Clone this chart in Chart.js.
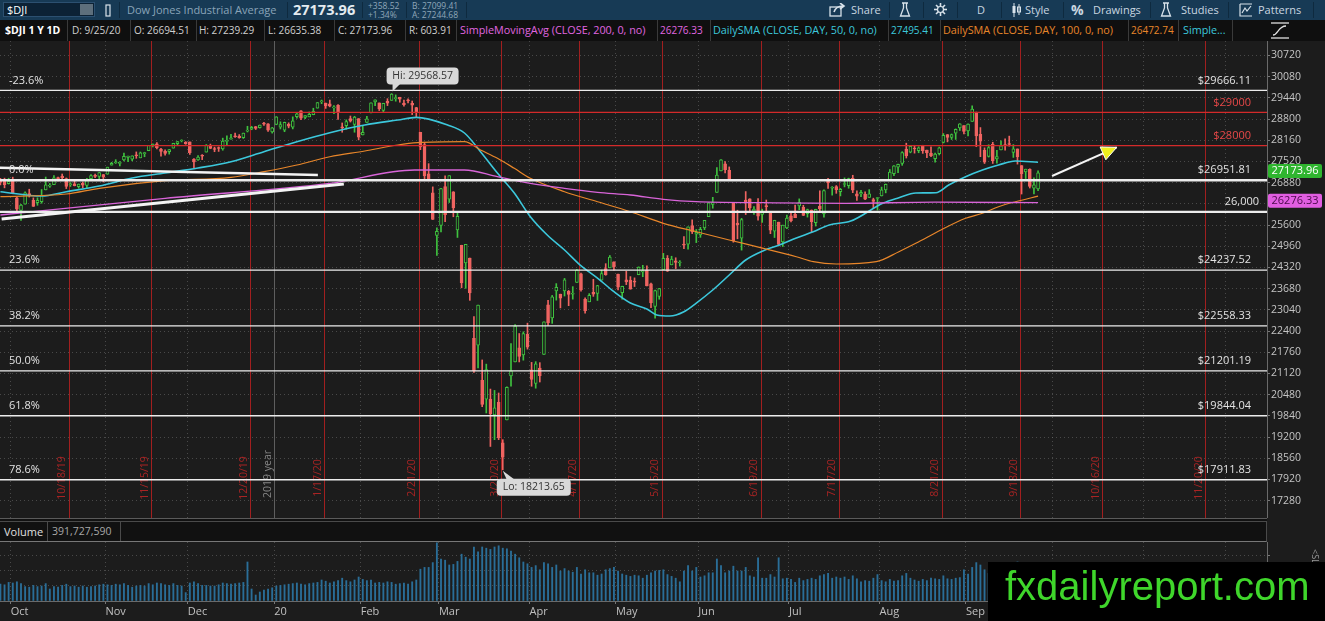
<!DOCTYPE html>
<html>
<head>
  <title>$DJI 1 Y 1D</title>
  <script src="https://cdn.jsdelivr.net/npm/chart.js"></script>
  <style>
    body {
      margin: 0;
      width: 1325px;
      height: 621px;
      overflow: hidden;
      position: relative;
      background-color: #1c1c1c;
      font-family: "Open Sans", sans-serif;
    }
    .abs { position: absolute; white-space: nowrap; }

    /* top toolbar */
    #toolbar { position: absolute; left: 0; top: 0; width: 1325px; height: 20px; background-color: #173a55; color: #c9d6e0; font-size: 11px; }
    #toolbar .sep { position: absolute; top: 2px; width: 1px; height: 16px; background-color: #0e2a3f; }
    .symbox { left: 3px; top: 2px; width: 92px; height: 15px; background-color: #0c2235; border: 1px solid #2c5070; box-sizing: border-box; color: #fff; font-size: 11px; line-height: 13px; padding-left: 3px; }
    .symbox .dd { position: absolute; right: 1px; top: 1px; width: 13px; height: 11px; background-color: #5d6f7c; }
    .small { font-size: 8.5px; color: #8fa7b9; line-height: 9px; }

    /* info bar */
    #infobar { position: absolute; left: 0; top: 20px; width: 1325px; height: 21px; background-color: #0f0f0f; color: #cfcfcf; font-size: 10px; }
    #infobar span { top: 3px; }
    #infobar .sep { position: absolute; top: 0; width: 1px; height: 21px; background-color: #3a3a3a; }

    /* volume header */
    #volhead { position: absolute; left: 0; top: 518px; width: 1267px; height: 24px; background-color: #111; border-top: 1px solid #5a5a5a; box-sizing: border-box; }
    #volhead .inner { position: absolute; left: 0; top: 2px; width: 1267px; height: 21px; border-top: 1px solid #4a4a4a; border-bottom: 1px solid #777; border-right: 1px solid #4a4a4a; box-sizing: border-box; }

    #mark { position: absolute; left: 988px; top: 562px; width: 337px; height: 59px; background-color: #000; }
    #mark span { position: absolute; left: 17px; top: 4px; font-family: "Liberation Sans", Arial, sans-serif; font-size: 40px; line-height: 40px; color: #3fd62b; }
  </style>
</head>
<body>
  <div id="toolbar">
    <div class="abs symbox">$DJI<div class="dd"></div></div>
    <svg class="abs" style="left:104px;top:4px" width="9" height="13"><rect x="2" y="1" width="4" height="11" fill="none" stroke="#d8e2ea" stroke-width="1.2"/></svg>
    <div class="sep" style="left:119px"></div>
    <span class="abs" style="left:127px;top:2px;color:#8aa4b8">Dow Jones Industrial Average</span>
    <div class="sep" style="left:287px"></div>
    <span class="abs" style="left:293px;top:0px;font-size:14.5px;font-weight:bold;color:#e4ebf0">27173.96</span>
    <div class="sep" style="left:362px"></div>
    <span class="abs small" style="left:368px;top:1px">+358.52</span>
    <span class="abs small" style="left:368px;top:10px">+1.34%</span>
    <div class="sep" style="left:406px"></div>
    <span class="abs small" style="left:412px;top:1px">B: 27099.41</span>
    <span class="abs small" style="left:412px;top:10px">A: 27244.68</span>
    <div class="sep" style="left:466px"></div>

    <svg class="abs" style="left:829px;top:3px" width="18" height="14"><rect x="1" y="4" width="11" height="9" fill="none" stroke="#d8e2ea" stroke-width="1.3"/><path d="M5 9 Q7 3 14 3 M11 0 L15 3 L11 6" fill="none" stroke="#d8e2ea" stroke-width="1.6"/></svg>
    <span class="abs" style="left:851px;top:2px">Share</span>
    <div class="sep" style="left:889px"></div>
    <svg class="abs" style="left:899px;top:2px" width="12" height="16"><path d="M3 1 H9 M4.5 1 V6 L1.5 14 H10.5 L7.5 6 V1" fill="none" stroke="#d8e2ea" stroke-width="1.3"/></svg>
    <div class="sep" style="left:923px"></div>
    <svg class="abs" style="left:934px;top:3px" width="13" height="13"><g stroke="#d8e2ea" stroke-width="1.6"><line x1="6.5" y1="0" x2="6.5" y2="13"/><line x1="0" y1="6.5" x2="13" y2="6.5"/><line x1="2" y1="2" x2="11" y2="11"/><line x1="11" y1="2" x2="2" y2="11"/></g><circle cx="6.5" cy="6.5" r="3" fill="#173a55" stroke="#d8e2ea" stroke-width="1.2"/></svg>
    <div class="sep" style="left:957px"></div>
    <span class="abs" style="left:977px;top:2px">D</span>
    <div class="sep" style="left:1001px"></div>
    <svg class="abs" style="left:1011px;top:3px" width="11" height="14"><g stroke="#d8e2ea" stroke-width="1"><line x1="3" y1="0" x2="3" y2="14"/><line x1="8" y1="1" x2="8" y2="12"/></g><rect x="1.5" y="3" width="3" height="7" fill="#d8e2ea"/><rect x="6.5" y="4" width="3" height="5" fill="none" stroke="#d8e2ea"/></svg>
    <span class="abs" style="left:1025px;top:2px">Style</span>
    <div class="sep" style="left:1063px"></div>
    <span class="abs" style="left:1071px;top:0px;font-size:14px;font-weight:bold">%</span>
    <span class="abs" style="left:1093px;top:2px">Drawings</span>
    <div class="sep" style="left:1150px"></div>
    <svg class="abs" style="left:1160px;top:2px" width="12" height="16"><path d="M3 1 H9 M4.5 1 V6 L1.5 14 H10.5 L7.5 6 V1" fill="none" stroke="#d8e2ea" stroke-width="1.3"/></svg>
    <span class="abs" style="left:1181px;top:2px">Studies</span>
    <div class="sep" style="left:1228px"></div>
    <svg class="abs" style="left:1239px;top:3px" width="14" height="14"><path d="M1 1 H13 M1 1 V13 H13 M3 10 L6 5 L8 8 L12 3" fill="none" stroke="#d8e2ea" stroke-width="1.2"/></svg>
    <span class="abs" style="left:1258px;top:2px">Patterns</span>
    <div class="sep" style="left:1313px"></div>
  </div>

  <div id="infobar">
    <span class="abs" style="left:5px;color:#fff;font-weight:bold;font-size:10.5px">$DJI 1 Y 1D</span>
    <div class="sep" style="left:67px"></div>
    <span class="abs" style="left:72px">D: 9/25/20</span>
    <div class="sep" style="left:130px"></div>
    <span class="abs" style="left:134px">O: 26694.51</span>
    <div class="sep" style="left:196px"></div>
    <span class="abs" style="left:199px">H: 27239.29</span>
    <div class="sep" style="left:264px"></div>
    <span class="abs" style="left:268px">L: 26635.38</span>
    <div class="sep" style="left:334px"></div>
    <span class="abs" style="left:338px">C: 27173.96</span>
    <div class="sep" style="left:405px"></div>
    <span class="abs" style="left:409px">R: 603.91</span>
    <div class="sep" style="left:456px"></div>
    <span class="abs" style="left:460px;color:#e066e0;font-size:10.8px;top:2px">SimpleMovingAvg (CLOSE, 200, 0, no)</span>
    <div class="sep" style="left:657px"></div>
    <span class="abs" style="left:660px;color:#e066e0">26276.33</span>
    <div class="sep" style="left:710px"></div>
    <span class="abs" style="left:713px;color:#3cc8dc;font-size:10.8px;top:2px">DailySMA (CLOSE, DAY, 50, 0, no)</span>
    <div class="sep" style="left:888px"></div>
    <span class="abs" style="left:891px;color:#3cc8dc">27495.41</span>
    <div class="sep" style="left:940px"></div>
    <span class="abs" style="left:943px;color:#e8862a;font-size:10.8px;top:2px">DailySMA (CLOSE, DAY, 100, 0, no)</span>
    <div class="sep" style="left:1128px"></div>
    <span class="abs" style="left:1131px;color:#e8862a">26472.74</span>
    <div class="sep" style="left:1178px"></div>
    <span class="abs" style="left:1183px;color:#3cc8dc;font-size:10.8px;top:2px">Simple...</span>
    <div class="sep" style="left:1232px"></div>
    <svg class="abs" style="left:1270px;top:1px" width="20" height="19"><g stroke="#e0e0e0" stroke-width="1.3" fill="none"><line x1="1" y1="2" x2="19" y2="2"/><line x1="1" y1="17" x2="19" y2="17"/><path d="M3 14 C8 14 8 5 16 5"/></g></svg>
  </div>

  <canvas id="priceChart" class="abs" style="left:0;top:41px" width="1325" height="477"></canvas>

  <div id="volhead">
    <div class="inner">
      <span class="abs" style="left:0;top:0;width:48px;height:19px;border-right:1px solid #4a4a4a;color:#e0e0e0;font-size:11px;line-height:19px;padding-left:4px;box-sizing:border-box">Volume</span>
      <span class="abs" style="left:52px;top:0;color:#a8a8a8;font-size:10.5px;line-height:19px">391,727,590</span>
      <div class="abs" style="left:120px;top:0;width:1px;height:19px;background-color:#4a4a4a"></div>
    </div>
  </div>

  <canvas id="volumeChart" class="abs" style="left:0;top:542px" width="1325" height="79"></canvas>

  <span class="abs" style="top:549px;font-size:9px;color:#9a9a9a;transform:rotate(90deg);transform-origin:left top;left:1322px">&lt;SL</span>

  <div id="mark"><span>fxdailyreport.com</span></div>

  <script>
    // ---- daily bars, 9/25/2019 .. 9/25/2020 (index 0 .. 253) ----
    const opens = [
      26796, 26983, 26928, 26852,
      26962, 26425, 26039, 26232, 26549, 26346, 26276, 26309, 26662, 26777, 26817, 27004, 27081, 27003, 26818, 26844, 26761, 26858, 26793, 27004, 27083, 27067, 27127,
      27133, 27409, 27480, 27462, 27566, 27644, 27591, 27704, 27628, 27757, 27843, 27996, 28052, 27890, 27825, 27812, 27921, 28060, 28137, 28105,
      28109, 27591, 27570, 27703, 27803, 27986, 27893, 27914, 27897, 28124, 28191, 28268, 28285, 28237, 28435, 28492, 28573, 28539, 28676, 28654, 28414,
      28639, 28553, 28466, 28640, 28556, 28874, 29048, 28847, 28868, 28929, 29129, 29316, 29278, 29263, 29136, 29218, 28542, 28599, 28817, 28641, 28813,
      28319, 28696, 28985, 29320, 29286, 29060, 29336, 29366, 29417, 29457, 29279, 29353, 29271, 29144, 28402, 28028, 27150, 26570, 25285,
      25591, 26762, 26383, 26605, 25457, 24992, 24454, 24605, 22184, 21973, 20917, 20344, 20346, 19869, 20253, 19028, 19722, 21050, 21468, 21898, 21678, 22302,
      21227, 20819, 21285, 21693, 23194, 22794, 23612, 23514, 23610, 23603, 23512, 23866, 24125, 23362, 23284, 23573, 23539, 23938, 24284, 24310, 24490,
      24120, 23562, 23950, 23943, 23887, 24100, 24189, 24245, 23829, 23147, 23445, 24255, 24595, 24400, 24521, 24456, 25022, 25025, 25586, 25323,
      25300, 25514, 25854, 26225, 26582, 27232, 27449, 27251, 26282, 25659, 25208, 26358, 26390, 26018, 26245, 25921, 26158, 26012, 25419, 25689, 25093, 25513,
      25880, 25923, 26179, 26136, 25946, 26049, 25676, 26173, 25939, 26942, 26712, 26761, 26608, 26824, 26786, 27012, 26542, 26538, 26532, 26434, 26368, 26403,
      26483, 26662, 26954, 27150, 27344, 27460, 27893, 27801, 27926, 27845, 27983, 27862, 27773, 27601, 27756, 28095, 28332, 28249, 28371, 28534, 28601,
      28439, 28728, 29010, 28341, 27857, 27671, 28039, 27598, 27868, 28032, 28059, 27792, 27898, 27397, 27201, 27280, 26715, 26694.51
    ];
    const highs = [
      27012, 27013, 27016, 27014,
      27046, 26443, 26223, 26607, 26682, 26421, 26423, 26672, 27049, 26854, 27094, 27049, 27141, 27022, 26882, 26959, 26840, 26901, 27009, 27123, 27141, 27189, 27129,
      27348, 27493, 27574, 27517, 27775, 27683, 27691, 27808, 27805, 27798, 28004, 28052, 28091, 27920, 27869, 27883, 28070, 28124, 28175, 28119,
      28109, 27608, 27699, 27727, 28030, 28044, 27952, 27960, 28224, 28290, 28337, 28376, 28331, 28377, 28582, 28582, 28576, 28621, 28701, 28664, 28548,
      28872, 28717, 28708, 28686, 28867, 28978, 29056, 28907, 29013, 29127, 29298, 29374, 29285, 29373, 29206, 29240, 28682, 28777, 28892, 28883, 28813,
      28592, 28883, 29291, 29380, 29286, 29277, 29415, 29568.57, 29529, 29458, 29370, 29409, 29345, 29153, 28402, 28100, 27454, 26753, 25514,
      26706, 27084, 27091, 26609, 25994, 24992, 25020, 24605, 22837, 23186, 21529, 21403, 20650, 20609, 20531, 19122, 20720, 22020, 22595, 22327, 22378, 22639,
      21455, 21478, 21447, 22680, 23328, 23476, 23833, 23515, 23990, 23627, 23742, 24265, 24152, 23401, 23531, 23964, 23781, 24241, 24435, 24682, 24490,
      24120, 23756, 24207, 24044, 24006, 24338, 24386, 24369, 23848, 23635, 23691, 24746, 24680, 24659, 24613, 24526, 25250, 25550, 25758, 25467,
      25532, 25742, 26283, 26437, 27338, 27580, 27520, 27355, 26282, 26049, 25802, 26611, 26395, 26159, 26400, 26081, 26357, 26012, 25746, 25689, 25598, 25905,
      26017, 26205, 26391, 26197, 26082, 26058, 26079, 26635, 26661, 27009, 26762, 26792, 26707, 27024, 27017, 27103, 26633, 26651, 26604, 26669, 26412, 26432,
      26746, 26840, 27278, 27394, 27442, 27815, 28072, 28002, 28008, 27965, 28009, 27865, 27958, 27773, 27955, 28363, 28333, 28350, 28502, 28661, 28601,
      28659, 29199, 29010, 28543, 27931, 28024, 28099, 27857, 28141, 28200, 28285, 28029, 27898, 27397, 27289, 27299, 27023, 27239.29
    ];
    const lows = [
      26686, 26811, 26723, 26839,
      26545, 25974, 25743, 26232, 26446, 26162, 26197, 26258, 26662, 26739, 26817, 26935, 26958, 26701, 26765, 26782, 26713, 26724, 26731, 26995, 27030, 26961, 26900,
      27133, 27409, 27459, 27385, 27536, 27511, 27539, 27614, 27629, 27662, 27843, 27958, 27897, 27676, 27711, 27741, 27921, 28016, 28110, 28039,
      27732, 27325, 27553, 27575, 27803, 27905, 27814, 27823, 27859, 28028, 28191, 28245, 28221, 28215, 28410, 28477, 28484, 28527, 28608, 28428, 28376,
      28627, 28500, 28418, 28534, 28502, 28829, 28779, 28809, 28868, 28929, 29129, 29263, 29122, 29168, 28965, 28788, 28402, 28492, 28709, 28402, 28170,
      28319, 28696, 28985, 29204, 29056, 29022, 29206, 29366, 29339, 29308, 29191, 29284, 28934, 28864, 27876, 26991, 26937, 25767, 24681,
      25391, 25706, 26281, 25851, 25226, 23707, 23690, 23328, 21154, 21285, 20117, 19928, 18917, 19122, 19123, 18213.65, 19722, 20738, 21468, 21469, 21522, 21855,
      20735, 20676, 20863, 21693, 22574, 22633, 23334, 23099, 23458, 23167, 23363, 23866, 23605, 22941, 23284, 23448, 23325, 23938, 24084, 24310, 24237,
      23645, 23361, 23803, 23664, 23745, 24100, 24041, 23764, 23110, 22790, 23361, 24255, 24201, 24400, 24285, 24362, 24891, 24876, 25343, 25071,
      25229, 25462, 25854, 26108, 26582, 27232, 27175, 26984, 25082, 25185, 24843, 25917, 26034, 25920, 25745, 25681, 26033, 25341, 25224, 24972, 24953, 25493,
      25693, 25825, 26063, 25886, 25840, 25390, 25570, 26029, 25839, 26704, 26503, 26558, 26480, 26752, 26712, 26577, 26345, 26459, 26366, 26431, 26108, 26053,
      26478, 26572, 26954, 27093, 27181, 27403, 27623, 27780, 27771, 27783, 27764, 27633, 27668, 27499, 27715, 28078, 28111, 28184, 28185, 28455, 28350,
      28293, 28728, 27965, 27665, 27458, 27652, 27460, 27465, 27868, 27861, 27982, 27642, 27440, 26537, 27004, 26718, 26537, 26635.38
    ];
    const closes = [
      26971, 26891, 26820, 26917,
      26573, 26079, 26201, 26574, 26478, 26164, 26346, 26497, 26817, 26787, 27025, 27002, 27026, 26770, 26828, 26788, 26834, 26806, 26958, 27091, 27071, 27187, 27046,
      27347, 27462, 27493, 27493, 27675, 27681, 27691, 27691, 27784, 27782, 28005, 28036, 27934, 27821, 27766, 27876, 28066, 28122, 28164, 28051,
      27783, 27503, 27650, 27678, 28015, 27910, 27882, 27911, 28132, 28135, 28236, 28267, 28239, 28377, 28455, 28552, 28515, 28621, 28645, 28462, 28538,
      28869, 28635, 28703, 28584, 28745, 28957, 28824, 28907, 28940, 29030, 29298, 29348, 29196, 29186, 29160, 28990, 28536, 28723, 28734, 28859, 28256,
      28400, 28808, 29291, 29380, 29103, 29277, 29276, 29551, 29423, 29398, 29232, 29348, 29220, 28992, 27961, 27081, 26958, 25767, 25409,
      26703, 25917, 27091, 26121, 25865, 23851, 25018, 23553, 21201, 23186, 20189, 21237, 19899, 20087, 19174, 18592, 20705, 21201, 22552, 21637, 22327, 21917,
      20944, 21413, 21053, 22680, 22654, 23434, 23719, 23391, 23950, 23504, 23538, 24242, 23650, 23019, 23476, 23515, 23775, 24134, 24102, 24634, 24346,
      23724, 23750, 23883, 23665, 23876, 24331, 24222, 23765, 23248, 23625, 23685, 24597, 24207, 24576, 24474, 24465, 24995, 25548, 25401, 25383,
      25475, 25743, 26270, 26282, 27111, 27572, 27272, 26990, 25128, 25606, 25763, 26290, 26120, 26080, 25871, 26025, 26156, 25446, 25746, 25016, 25596, 25813,
      25735, 25827, 26287, 25890, 26067, 25706, 26075, 26086, 26643, 26870, 26735, 26672, 26681, 26840, 27006, 26652, 26470, 26585, 26379, 26540, 26314, 26428,
      26664, 26828, 27202, 27387, 27433, 27791, 27687, 27977, 27897, 27931, 27845, 27778, 27693, 27740, 27930, 28308, 28248, 28332, 28492, 28654, 28430,
      28646, 29101, 28293, 28133, 27501, 27940, 27535, 27666, 27993, 27996, 28032, 27902, 27657, 27148, 27288, 26763, 26815, 27173.96
    ];
    // volume, millions of shares
    const volumes = [
      290, 280, 270, 310,
      300, 320, 290, 240, 230, 260, 240, 250, 290, 200, 240, 230, 260, 280, 240, 250, 230, 250, 230, 240, 250, 270, 280,
      270, 260, 280, 270, 290, 260, 230, 250, 260, 250, 290, 270, 300, 290, 270, 260, 290, 260, 250, 140,
      300, 320, 290, 260, 260, 250, 250, 270, 300, 290, 280, 290, 300, 310, 650, 200, 100, 150, 180, 200, 220,
      250, 260, 270, 280, 290, 300, 280, 270, 290, 300, 310, 350, 330, 300, 320, 340, 380, 340, 320, 350, 400,
      360, 340, 350, 300, 310, 300, 320, 310, 280, 290, 300, 280, 320, 350, 530, 560, 560, 640, 970,
      700, 680, 600, 610, 660, 780, 730, 700, 900, 820, 900, 880, 860, 900, 920, 880, 870, 830, 780, 720, 650, 620,
      560, 590, 520, 640, 620, 560, 600, 500, 540, 500, 480, 560, 450, 520, 470, 470, 430, 450, 520, 540, 560,
      500, 450, 430, 410, 430, 420, 380, 430, 470, 500, 510, 520, 440, 410, 380, 320, 500, 590, 500, 560,
      400, 420, 470, 470, 700, 590, 470, 500, 580, 500, 500, 560, 420, 400, 720, 380, 380, 440, 400, 720, 370, 380,
      360, 310, 380, 340, 360, 380, 360, 420, 440, 460, 380, 400, 380, 400, 360, 420, 370, 320, 340, 330, 380, 440,
      340, 320, 360, 330, 340, 420, 460, 380, 350, 330, 360, 340, 380, 370, 360, 420, 370, 360, 380, 390, 520,
      450, 560, 640, 600, 520, 460, 440, 400, 400, 410, 400, 420, 650, 500, 380, 420, 400, 392
    ];

    // moving averages (bar index, value)
    const sma50Idx = [1, 11, 17, 25, 33, 41, 49, 57, 65, 73, 81, 89.5, 97.5, 102, 109.6, 113.7, 117.6, 121.7, 125.8, 129.7, 133.8, 138, 141.8, 146, 150, 154, 158, 160.4, 163.6, 167, 170, 174, 178, 182, 186.3, 190.2, 194.3, 198.4, 202.3, 207.5, 215.4, 219.2, 223.3, 228.2, 231.3, 235.4, 239.5, 243.4, 247.5, 253];
    const sma50Val = [26607, 26477, 26607, 26779, 27020, 27171, 27322, 27512, 27814, 28116, 28388, 28620, 28771, 28852, 28620, 28379, 27814, 27171, 26568, 25852, 25300, 24847, 24394, 24002, 23588, 23247, 23066, 22885, 22855, 22985, 23247, 23640, 24092, 24545, 24826, 24998, 25209, 25399, 25602, 25720, 26266, 26426, 26568, 26577, 26809, 27060, 27262, 27413, 27533, 27495.41];
    const sma100Idx = [1, 17, 25, 41, 57, 65, 73, 81, 89.5, 97.5, 102.4, 113.7, 117.6, 121.7, 125.8, 129.7, 138, 146, 154, 162, 170, 178, 186.3, 194.3, 198.4, 204, 213.7, 219.2, 223.3, 229.4, 235.4, 239.5, 243.4, 247.5, 253];
    const sma100Val = [26456, 26537, 26710, 26939, 27042, 27211, 27413, 27663, 27835, 28016, 28086, 28116, 27866, 27615, 27313, 27011, 26607, 26305, 26003, 25653, 25399, 25149, 24898, 24645, 24494, 24425, 24494, 24796, 25049, 25451, 25804, 25955, 26154, 26305, 26472.74];
    const sma200Idx = [1, 41, 81, 101.6, 113.7, 121.7, 129.7, 138, 146, 154, 162, 170, 186.3, 206.4, 228, 253];
    const sma200Val = [25904, 26408, 26860, 27262, 27262, 27060, 26860, 26710, 26589, 26507, 26377, 26305, 26276, 26257, 26290, 26276.33];

    // fibonacci retracement and drawn levels
    const fibLevels = [29666.11, 26951.81, 24237.52, 22558.33, 21201.19, 19844.04, 17911.83];
    const fibPct = ['-23.6%', '0.0%', '23.6%', '38.2%', '50.0%', '61.8%', '78.6%'];
    const redLevels = [29000, 28000];
    const supportLevel = 26000;

    // trend lines / arrow drawn on the chart (bar index, value)
    const trend1Idx = [0.9, 78.1], trend1Val = [27331, 27111];
    const trend2Idx = [1.3, 84.4], trend2Val = [25783, 26839];
    const arrowIdx = [256.4, 272.1], arrowVal = [27081, 27947];

    // axis ticks
    const priceTicks = [17280, 17920, 18560, 19200, 19840, 20480, 21120, 21760, 22400, 23040, 23680, 24320, 24960, 25600, 26240, 26880, 27520, 28160, 28800, 29440, 30080, 30720];
    const monthTicks = [3.5, 26.5, 46.5, 67.5, 88.5, 107.5, 129.5, 150.5, 170.5, 192.5, 214.5, 235.5, 256.5, 278.5, 298.5];
    const monthLabels = ['Oct', 'Nov', 'Dec', '20', 'Feb', 'Mar', 'Apr', 'May', 'Jun', 'Jul', 'Aug', 'Sep', 'Oct', 'Nov', 'Dec'];
    const yearTick = 67.5;
    const expiryIdx = [17, 37, 61, 79, 102, 122, 141, 161, 185, 204, 229, 248, 268, 293];
    const expiryLabels = ['10/18/19', '11/15/19', '12/20/19', '1/17/20', '2/21/20', '3/20/20', '4/17/20', '5/15/20', '6/19/20', '7/17/20', '8/21/20', '9/18/20', '10/16/20', '11/20/20'];
    const hiIdx = 96, loIdx = 123;

    const xMin = 0.9, xMax = 308.6;
    const priceMin = 16758, priceMax = 31156;

    const GREEN = '#3fc23f', RED = '#ef6461', BG = '#1c1c1c';

    Chart.defaults.font.family = '"Open Sans", sans-serif';
    Chart.defaults.animation = false;

    const last = closes.length - 1;
    const isUp = closes.map((c, i) => c >= opens[i]);
    const wickData = closes.map((c, i) => ({ x: i, y: [lows[i], highs[i]] }));
    const bodyData = closes.map((c, i) => ({ x: i, y: [opens[i], c] }));
    const pts = (xs, ys) => xs.map((x, i) => ({ x: x, y: ys[i] }));
    const flat = v => [{ x: xMin, y: v }, { x: xMax, y: v }];

    function lineSet(data, color, width, order, extra) {
      return Object.assign({
        type: 'line', data: data, borderColor: color, borderWidth: width,
        pointRadius: 0, fill: false, order: order
      }, extra || {});
    }

    const datasets = [
      { type: 'bar', data: wickData, backgroundColor: isUp.map(u => u ? GREEN : RED),
        barThickness: 1, grouped: false, order: 7 },
      { type: 'bar', data: bodyData, backgroundColor: isUp.map(u => u ? BG : RED),
        borderColor: isUp.map(u => u ? GREEN : RED), borderWidth: 1, borderSkipped: false,
        barThickness: 3, minBarLength: 1, grouped: false, order: 6 },
      lineSet(pts(sma200Idx, sma200Val), '#d864d8', 1.3, 5, { cubicInterpolationMode: 'monotone' }),
      lineSet(pts(sma100Idx, sma100Val), '#e8862a', 1.2, 5, { cubicInterpolationMode: 'monotone' }),
      lineSet(pts(sma50Idx, sma50Val), '#3cc8dc', 1.6, 5, { cubicInterpolationMode: 'monotone' })
    ];
    fibLevels.forEach((v, k) => datasets.push(lineSet(flat(v), '#ececec', k === 1 ? 2.5 : 1.3, 4)));
    redLevels.forEach(v => datasets.push(lineSet(flat(v), '#d42a2a', 1.3, 4)));
    datasets.push(lineSet(flat(supportLevel), '#ececec', 2.2, 4));
    datasets.push(lineSet(pts(trend1Idx, trend1Val), '#f4f4f4', 2.5, 3));
    datasets.push(lineSet(pts(trend2Idx, trend2Val), '#f4f4f4', 3, 3));
    datasets.push(lineSet(pts(arrowIdx, arrowVal), '#f4f4f4', 2, 2));

    function rrect(ctx, x, y, w, h, r) {
      ctx.beginPath();
      ctx.moveTo(x + r, y);
      ctx.arcTo(x + w, y, x + w, y + h, r);
      ctx.arcTo(x + w, y + h, x, y + h, r);
      ctx.arcTo(x, y + h, x, y, r);
      ctx.arcTo(x, y, x + w, y, r);
      ctx.closePath();
    }

    const priceDeco = {
      id: 'priceDeco',
      beforeDatasetsDraw(chart) {
        const { ctx, chartArea: a, scales: { x } } = chart;
        ctx.save();
        ctx.beginPath(); ctx.rect(a.left, a.top, a.width, a.height); ctx.clip();
        ctx.lineWidth = 1;
        const yx = Math.round(x.getPixelForValue(yearTick)) + 0.5;
        ctx.strokeStyle = '#5e5e5e';
        ctx.beginPath(); ctx.moveTo(yx, a.top); ctx.lineTo(yx, a.bottom); ctx.stroke();
        ctx.strokeStyle = '#a11f1f';
        expiryIdx.forEach(i => {
          const px = Math.round(x.getPixelForValue(i + 0.6)) + 0.5;
          ctx.beginPath(); ctx.moveTo(px, a.top); ctx.lineTo(px, a.bottom); ctx.stroke();
        });
        ctx.font = '10.5px "Open Sans"';
        ctx.textAlign = 'center';
        ctx.textBaseline = 'bottom';
        ctx.fillStyle = '#a82424';
        expiryIdx.forEach((i, k) => {
          const px = x.getPixelForValue(i + 0.6);
          ctx.save(); ctx.translate(px - 1, a.bottom - 40); ctx.rotate(-Math.PI / 2);
          ctx.fillText(expiryLabels[k], 0, 0); ctx.restore();
        });
        ctx.fillStyle = '#858585';
        ctx.save(); ctx.translate(yx - 1, a.bottom - 44); ctx.rotate(-Math.PI / 2);
        ctx.fillText('2019 year', 0, 0); ctx.restore();
        ctx.restore();
      },
      afterDatasetsDraw(chart) {
        const { ctx, scales: { x, y } } = chart;
        ctx.save();
        ctx.font = '11px "Open Sans"';
        ctx.textBaseline = 'middle';
        fibLevels.forEach((v, k) => {
          const py = y.getPixelForValue(v) - 10;
          ctx.fillStyle = '#e2e2e2';
          ctx.textAlign = 'left';
          ctx.fillText(fibPct[k], 9, py);
          ctx.textAlign = 'right';
          ctx.fillText('$' + v.toFixed(2), 1251, py);
        });
        ctx.fillStyle = '#e84848';
        redLevels.forEach(v => ctx.fillText('$' + v, 1251, y.getPixelForValue(v) - 10));
        ctx.fillStyle = '#e2e2e2';
        ctx.fillText('26,000', 1259, y.getPixelForValue(supportLevel) - 10);

        // Hi / Lo bubbles
        ctx.font = '10.5px "Open Sans"';
        const hx = x.getPixelForValue(hiIdx), hy = y.getPixelForValue(highs[hiIdx]);
        ctx.fillStyle = '#d9d9d9';
        rrect(ctx, hx - 5, hy - 26, 72, 17, 4); ctx.fill();
        ctx.beginPath(); ctx.moveTo(hx + 1, hy - 10); ctx.lineTo(hx + 9, hy - 10); ctx.lineTo(hx + 1, hy - 2); ctx.fill();
        ctx.fillStyle = '#333';
        ctx.textAlign = 'center';
        ctx.fillText('Hi: ' + highs[hiIdx].toFixed(2), hx + 31, hy - 17.5);
        const lx = x.getPixelForValue(loIdx), ly = y.getPixelForValue(lows[loIdx]);
        ctx.fillStyle = '#d9d9d9';
        rrect(ctx, lx - 6, ly + 9, 74, 17, 4); ctx.fill();
        ctx.beginPath(); ctx.moveTo(lx, ly + 1); ctx.lineTo(lx + 4, ly + 10); ctx.lineTo(lx + 12, ly + 10); ctx.fill();
        ctx.fillStyle = '#333';
        ctx.fillText('Lo: ' + lows[loIdx].toFixed(2), lx + 31, ly + 17.5);

        // arrow head
        const x0 = x.getPixelForValue(arrowIdx[0]), y0 = y.getPixelForValue(arrowVal[0]);
        const x1 = x.getPixelForValue(arrowIdx[1]), y1 = y.getPixelForValue(arrowVal[1]);
        const len = Math.hypot(x1 - x0, y1 - y0), dx = (x1 - x0) / len, dy = (y1 - y0) / len;
        const bx = x1 - dx * 15, by = y1 - dy * 15;
        ctx.beginPath();
        ctx.moveTo(x1, y1);
        ctx.lineTo(bx - dy * 7, by + dx * 7);
        ctx.lineTo(bx + dy * 7, by - dx * 7);
        ctx.closePath();
        ctx.fillStyle = '#f0f01e'; ctx.fill();
        ctx.strokeStyle = '#ffffff'; ctx.lineWidth = 1; ctx.stroke();
        ctx.restore();
      },
      afterDraw(chart) {
        const { ctx, scales: { y } } = chart;
        ctx.save();
        ctx.font = '11px "Open Sans"';
        ctx.textAlign = 'center';
        ctx.textBaseline = 'middle';
        const tag = (v, bg, fg, dy) => {
          const py = y.getPixelForValue(v) + dy;
          ctx.fillStyle = bg; rrect(ctx, 1268, py - 7, 54, 14, 2); ctx.fill();
          ctx.fillStyle = fg; ctx.fillText(v.toFixed(2), 1295, py);
        };
        tag(sma200Val[sma200Val.length - 1], '#e15ee1', '#4a0a4a', -2);
        tag(closes[last], '#2fb52f', '#ffffff', -2);
        ctx.restore();
      }
    };

    const noPad = s => { s.paddingTop = 0; s.paddingBottom = 0; s.paddingLeft = 0; s.paddingRight = 0; };
    const gridColor = 'rgba(128,128,128,0.45)';

    new Chart(document.getElementById('priceChart'), {
      type: 'bar',
      data: { datasets: datasets },
      options: {
        responsive: false,
        events: [],
        layout: { padding: 0 },
        plugins: { legend: { display: false }, tooltip: { enabled: false } },
        scales: {
          x: {
            type: 'linear', min: xMin, max: xMax, offset: false,
            afterBuildTicks: s => { s.ticks = monthTicks.map(v => ({ value: v })); },
            afterFit: s => { s.height = 0; noPad(s); },
            ticks: { display: false },
            grid: { color: gridColor, drawTicks: false, offset: false },
            border: { display: false, dash: [1, 3] }
          },
          y: {
            position: 'right', min: priceMin, max: priceMax,
            afterBuildTicks: s => { s.ticks = priceTicks.map(v => ({ value: v })); },
            afterFit: s => { s.width = 58; noPad(s); },
            ticks: { color: '#c4c4c4', font: { size: 10.5 }, padding: 1, callback: v => String(v) },
            grid: { color: gridColor, tickLength: 3, tickColor: '#777' },
            border: { display: true, color: '#6a6a6a', dash: [1, 3] }
          }
        }
      },
      plugins: [priceDeco]
    });

    new Chart(document.getElementById('volumeChart'), {
      type: 'bar',
      data: {
        datasets: [{
          data: volumes.map((v, i) => ({ x: i, y: v })),
          backgroundColor: '#2a6e98', barThickness: 1.2
        }]
      },
      options: {
        responsive: false,
        events: [],
        layout: { padding: 0 },
        plugins: { legend: { display: false }, tooltip: { enabled: false } },
        scales: {
          x: {
            type: 'linear', min: xMin, max: xMax, offset: false,
            afterBuildTicks: s => { s.ticks = monthTicks.map(v => ({ value: v })); },
            afterFit: s => { s.height = 20; noPad(s); },
            ticks: { align: 'start', autoSkip: false, maxRotation: 0, color: '#c0c0c0', font: { size: 11 }, padding: 1,
                     callback: (v, i) => monthLabels[i] },
            grid: { color: gridColor, tickLength: 3, tickColor: '#777', offset: false },
            border: { display: true, color: '#6a6a6a', dash: [1, 3] }
          },
          y: {
            position: 'right', min: 0, max: 983,
            afterBuildTicks: s => { s.ticks = [0, 250, 500, 750].map(v => ({ value: v })); },
            afterFit: s => { s.width = 58; noPad(s); },
            ticks: { display: false },
            grid: { color: gridColor, tickLength: 3, tickColor: '#777' },
            border: { display: true, color: '#6a6a6a', dash: [1, 3] }
          }
        }
      }
    });
  </script>
</body>
</html>
